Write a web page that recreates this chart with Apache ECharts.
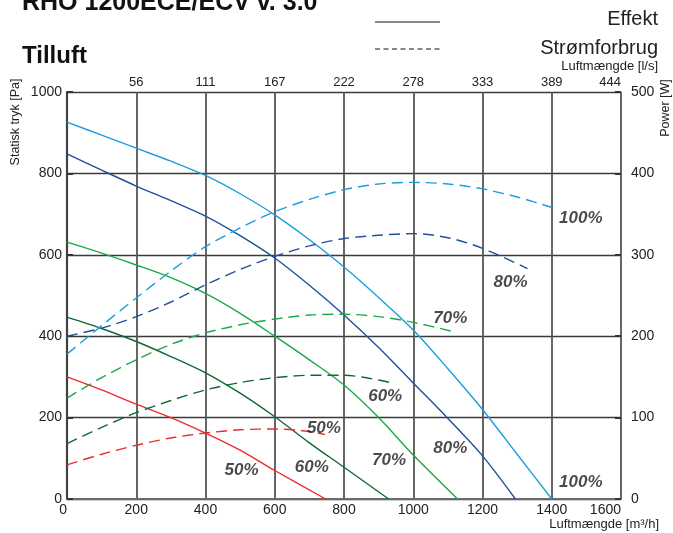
<!DOCTYPE html>
<html><head><meta charset="utf-8">
<script src="https://cdn.jsdelivr.net/npm/echarts@6/dist/echarts.min.js"></script>
<style>html,body{margin:0;padding:0;background:#fff}#c{width:673px;height:533px}</style>
</head><body><div id="c"></div>
<script>
// ---- data ----
const flowTicks = [0, 200, 400, 600, 800, 1000, 1200, 1400, 1600];
const flowLsLabels = ['', '56', '111', '167', '222', '278', '333', '389', '444'];
const speedNames = ['100%', '80%', '70%', '60%', '50%'];
// static pressure [Pa] vs airflow [m3/h]
const pressure100 = [[0,926],[100,894],[200,862],[300,830],[400,795],[500,750],[600,698],[700,637],[800,570],[900,495],[1000,415],[1100,320],[1200,220],[1300,110],[1400,0]];
const pressure80  = [[0,848],[100,808],[200,769],[300,733],[400,695],[500,647],[600,592],[700,525],[800,452],[900,372],[1000,285],[1100,198],[1200,106],[1295,0]];
const pressure70  = [[0,631],[100,604],[200,575],[300,544],[400,505],[500,456],[600,400],[700,342],[800,280],[900,200],[1000,108],[1128,0]];
const pressure60  = [[0,447],[100,419],[200,387],[300,350],[400,310],[500,260],[600,202],[700,138],[800,78],[929,0]];
const pressure50  = [[0,300],[100,268],[200,233],[300,200],[400,162],[500,120],[600,70],[747,0]];
// power [W] vs airflow [m3/h]
const power100 = [[0,178],[100,213],[200,247],[300,280],[400,310],[500,333],[600,353],[700,368],[800,380],[900,387],[1000,389],[1100,387],[1200,381],[1300,371],[1417,356]];
const power80  = [[0,200],[100,210],[200,224],[300,242],[400,263],[500,282],[600,298],[700,311],[800,320],[900,324],[1000,326],[1100,321],[1200,308],[1330,283]];
const power70  = [[0,124],[100,149],[200,171],[300,190],[400,204],[500,214],[600,221],[700,226],[800,227],[900,224],[1000,217],[1122,205]];
const power60  = [[0,68],[100,88],[200,106],[300,121],[400,134],[500,143],[600,149],[700,152],[800,152],[945,142]];
const power50  = [[0,42],[100,55],[200,66],[300,75],[400,81],[500,85],[600,86],[700,83],[745,79]];
// curve annotations (airflow, pressure-scale)
const annoText = ['100%','80%','70%','60%','50%','50%','60%','70%','80%','100%'];
const annoX = [1484,1281,1107,919,742,504,707,930,1107,1484];
const annoY = [690,533,445,253,174,71,79,96,125,42];

const colors = ['#1c9ddc', '#1f4f9e', '#1aa84b', '#0d6a36', '#ee2b2b'];
const pressures = [pressure100, pressure80, pressure70, pressure60, pressure50];
const powers = [power100, power80, power70, power60, power50];

const FF = "'Liberation Sans', Arial, sans-serif";
const plain = v => String(v);

const series = [];
pressures.forEach((d, i) => series.push({
  name: speedNames[i] + ' tryk', type: 'line', xAxisIndex: 0, yAxisIndex: 0,
  data: d, smooth: 0.3, symbol: 'none',
  lineStyle: { color: colors[i], width: 1.4 }, z: 3
}));
powers.forEach((d, i) => series.push({
  name: speedNames[i] + ' effekt', type: 'line', xAxisIndex: 0, yAxisIndex: 1,
  data: d, smooth: 0.3, symbol: 'none',
  lineStyle: { color: colors[i], width: 1.4, type: [11, 6] }, z: 3
}));
series.push({
  type: 'scatter', xAxisIndex: 0, yAxisIndex: 0, symbolSize: 0, z: 5,
  data: annoX.map((x, i) => [x, annoY[i], annoText[i]]),
  label: { show: true, position: 'inside', formatter: p => p.data[2],
    fontFamily: FF, fontSize: 17, fontWeight: 'bold', fontStyle: 'italic', color: '#1e1e1e' }
});

const chart = echarts.init(document.getElementById('c'), null, { renderer: 'canvas' });
chart.setOption({
  animation: false,
  backgroundColor: '#ffffff',
  grid: { left: 67, right: 52, top: 92, bottom: 34, containLabel: false },
  xAxis: [{
    type: 'value', min: 0, max: 1600, interval: 200, position: 'bottom',
    axisLine: { show: true, lineStyle: { color: '#6a6a6a', width: 2 } },
    axisTick: { show: false },
    axisLabel: { fontFamily: FF, fontSize: 14, color: '#222', margin: 4, formatter: plain,
      alignMinLabel: 'right', alignMaxLabel: 'right' },
    splitLine: { show: true, lineStyle: { color: '#555', width: 1.8 } }
  }, {
    type: 'value', min: 0, max: 1600, interval: 200, position: 'top',
    axisLine: { show: false }, axisTick: { show: false },
    axisLabel: { fontFamily: FF, fontSize: 13, color: '#222', margin: 3, alignMaxLabel: 'right',
      formatter: v => flowLsLabels[flowTicks.indexOf(v)] },
    splitLine: { show: false }
  }],
  yAxis: [{
    type: 'value', min: 0, max: 1000, interval: 200, position: 'left',
    axisLine: { show: true, lineStyle: { color: '#6a6a6a', width: 2.2 } },
    axisTick: { show: false },
    axisLabel: { fontFamily: FF, fontSize: 14, color: '#222', margin: 5, formatter: plain },
    splitLine: { show: true, lineStyle: { color: '#3a3a3a', width: 1.4 } }
  }, {
    type: 'value', min: 0, max: 500, interval: 100, position: 'right',
    axisLine: { show: true, lineStyle: { color: '#333', width: 1.5 } },
    axisTick: { show: true, length: 6, lineStyle: { color: '#333', width: 2 } },
    axisLabel: { fontFamily: FF, fontSize: 14, color: '#222', margin: 10, formatter: plain },
    splitLine: { show: false }
  }, {
    type: 'value', min: 0, max: 500, interval: 100, position: 'right',
    axisLine: { show: false },
    axisTick: { show: true, inside: true, length: 6, lineStyle: { color: '#333', width: 2 } },
    axisLabel: { show: false },
    splitLine: { show: false }
  }],
  graphic: [
    { type: 'text', left: 22, top: -9, style: { text: 'RHO 1200ECE/ECV v. 3.0', font: "bold 25px 'Liberation Sans', Arial, sans-serif", fill: '#111' } },
    { type: 'text', left: 22, top: 44, style: { text: 'Tilluft', font: "bold 24px 'Liberation Sans', Arial, sans-serif", fill: '#111' } },
    { type: 'line', shape: { x1: 375, y1: 22, x2: 440, y2: 22 }, style: { stroke: '#111', lineWidth: 1.2 } },
    { type: 'line', shape: { x1: 375, y1: 49, x2: 440, y2: 49 }, style: { stroke: '#111', lineWidth: 1.2, lineDash: [5, 3.5] } },
    { type: 'text', right: 15, top: 9, style: { text: 'Effekt', font: "20px 'Liberation Sans', Arial, sans-serif", fill: '#222' } },
    { type: 'text', right: 15, top: 38, style: { text: 'Strømforbrug', font: "20px 'Liberation Sans', Arial, sans-serif", fill: '#222' } },
    { type: 'text', right: 15, top: 60, style: { text: 'Luftmængde [l/s]', font: "13px 'Liberation Sans', Arial, sans-serif", fill: '#222' } },
    { type: 'text', right: 14, top: 518, style: { text: 'Luftmængde [m³/h]', font: "13px 'Liberation Sans', Arial, sans-serif", fill: '#222' } },
    { type: 'text', x: 16, y: 122, rotation: Math.PI / 2, style: { text: 'Statisk tryk [Pa]', font: "12.5px 'Liberation Sans', Arial, sans-serif", fill: '#222', align: 'center', verticalAlign: 'middle' } },
    { type: 'text', x: 666, y: 108, rotation: Math.PI / 2, style: { text: 'Power [W]', font: "12.5px 'Liberation Sans', Arial, sans-serif", fill: '#222', align: 'center', verticalAlign: 'middle' } }
  ],
  series: series
});
</script>
</body></html>
